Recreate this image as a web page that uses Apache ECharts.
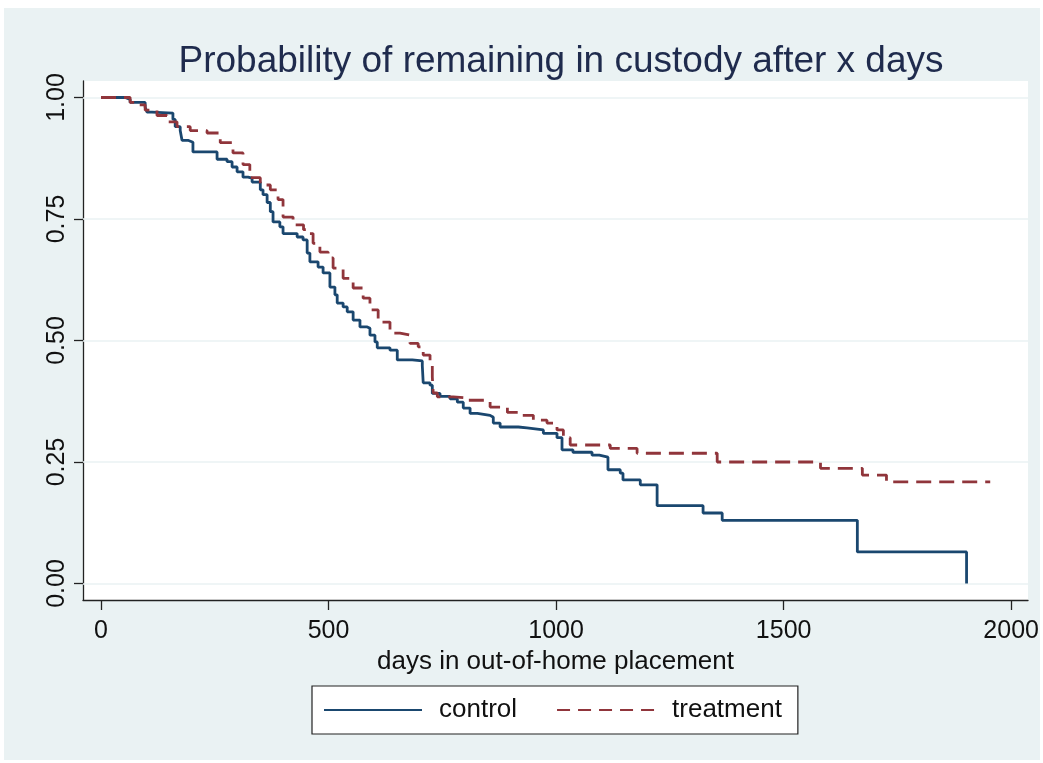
<!DOCTYPE html>
<html>
<head>
<meta charset="utf-8">
<script src="https://cdn.jsdelivr.net/npm/echarts@6/dist/echarts.min.js"></script>
<style>
html,body{margin:0;padding:0;background:#fff;}
#bg{position:absolute;left:4px;top:8px;width:1036px;height:752px;background:#eaf2f3;}
#main{position:absolute;left:0;top:0;width:1043px;height:763px;}
</style>
</head>
<body>
<div id="bg"></div>
<div id="main"></div>
<script>
var titleText = 'Probability of remaining in custody after x days';
var xName = 'days in out-of-home placement';
var xTicks = [0, 500, 1000, 1500, 2000];
var yTicks = [0, 0.25, 0.5, 0.75, 1];

// control group (Kaplan-Meier steps)
var controlDays = [0,53,64,97,101,112,158,163,174,178,191,202,255,277,288,299,312,323,332,350,
  356,365,372,378,393,400,431,444,453,459,477,488,503,514,519,532,541,554,569,585,
  591,602,607,635,651,684,706,708,723,728,745,767,783,796,811,827,855,862,877,917,
  936,972,1002,1013,1037,1079,1095,1114,1141,1147,1185,1222,1323,1365,1662,1902];
var controlSurv = [1,0.996,0.99,0.98,0.97,0.968,0.955,0.94,0.932,0.912,0.908,0.888,0.873,0.868,0.857,0.847,0.836,0.834,0.826,0.81,
  0.8,0.784,0.765,0.744,0.734,0.72,0.713,0.707,0.68,0.662,0.651,0.639,0.61,0.594,0.577,0.569,0.559,0.542,0.528,0.525,
  0.511,0.497,0.485,0.48,0.46,0.458,0.448,0.413,0.408,0.391,0.385,0.38,0.373,0.361,0.35,0.346,0.342,0.33,0.322,0.32,
  0.316,0.309,0.30,0.275,0.27,0.264,0.26,0.234,0.227,0.213,0.203,0.16,0.145,0.13,0.065,0];

// treatment group
var treatDays = [0,64,80,97,123,145,167,196,233,262,290,312,327,350,372,389,400,422,445,459,
  466,481,499,510,532,554,576,591,609,635,657,679,697,708,723,728,730,739,774,805,
  855,893,921,950,980,1002,1016,1031,1119,1178,1354,1581,1673,1726,1954];
var treatSurv = [1,0.99,0.985,0.974,0.963,0.95,0.94,0.932,0.927,0.907,0.886,0.862,0.835,0.82,0.81,0.79,0.754,0.738,0.728,0.72,
  0.70,0.682,0.67,0.649,0.628,0.608,0.587,0.563,0.538,0.515,0.511,0.494,0.487,0.47,0.45,0.425,0.392,0.384,0.382,0.377,
  0.363,0.352,0.346,0.336,0.33,0.316,0.30,0.285,0.278,0.268,0.25,0.237,0.223,0.209,0.209];

function zip(a, b) {
  return a.map(function (v, i) { return [v, b[i]]; });
}

var font = 'Liberation Sans, Arial, sans-serif';
var myChart = echarts.init(document.getElementById('main'));

var option = {
  animation: false,
  textStyle: { fontFamily: font },
  title: {
    text: titleText,
    left: 556,
    top: 38,
    textAlign: 'center',
    textStyle: { fontFamily: font, fontSize: 37, fontWeight: 'normal', color: '#1f2b4d' }
  },
  grid: {
    left: 83, top: 81, width: 945, height: 519,
    show: true, backgroundColor: '#fff', borderWidth: 0,
    containLabel: false, outerBoundsMode: 'none'
  },
  legend: {
    left: 312, top: 686,
    padding: [11, 16, 11, 11],
    backgroundColor: '#fff',
    borderColor: '#222', borderWidth: 1.2,
    itemWidth: 98, itemHeight: 14, itemGap: 39,
    itemStyle: { opacity: 0 },
    textStyle: { fontFamily: font, fontSize: 26, color: '#111', padding: [0, 0, 0, 12] },
    data: [
      { name: 'control' },
      { name: 'treatment', lineStyle: { type: [13, 8] } }
    ]
  },
  xAxis: {
    type: 'value',
    min: -39.6, max: 2037,
    name: xName,
    nameLocation: 'middle',
    nameGap: 44,
    nameTextStyle: { fontFamily: font, fontSize: 26, color: '#111' },
    axisLine: { onZero: false, lineStyle: { color: '#222', width: 1.3 } },
    axisTick: { show: true, length: 10, customValues: xTicks, lineStyle: { color: '#222', width: 1.3 } },
    axisLabel: {
      customValues: xTicks, margin: 19, fontSize: 25, color: '#111', fontFamily: font,
      formatter: function (v) { return String(v); }
    },
    splitLine: { show: false }
  },
  yAxis: {
    type: 'value',
    min: -0.034, max: 1.034,
    axisLine: { show: true, onZero: false, lineStyle: { color: '#222', width: 1.3 } },
    axisTick: { show: true, length: 9, customValues: yTicks, lineStyle: { color: '#222', width: 1.3 } },
    axisLabel: {
      customValues: yTicks, rotate: 90, margin: 13, fontSize: 25, color: '#111', fontFamily: font,
      formatter: function (v) { return v.toFixed(2); }
    },
    splitLine: { show: false }
  },
  series: [
    {
      name: 'control',
      type: 'line',
      step: 'end',
      symbol: 'none',
      showSymbol: false,
      z: 3,
      color: '#1a476f',
      lineStyle: { color: '#1a476f', width: 2.8 },
      data: zip(controlDays, controlSurv),
      markLine: {
        silent: true,
        symbol: 'none',
        z: 1,
        label: { show: false },
        lineStyle: { color: '#eaf2f3', width: 1.5, type: 'solid' },
        data: yTicks.map(function (v) { return { yAxis: v }; })
      }
    },
    {
      name: 'treatment',
      type: 'line',
      step: 'end',
      symbol: 'none',
      showSymbol: false,
      z: 4,
      color: '#90353b',
      lineStyle: { color: '#90353b', width: 2.8, type: [15, 8] },
      data: zip(treatDays, treatSurv)
    }
  ]
};

myChart.setOption(option);
</script>
</body>
</html>
